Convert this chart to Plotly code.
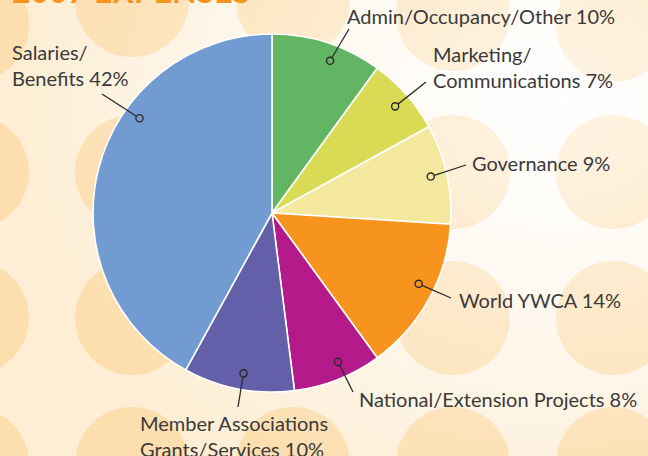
import math
import plotly.graph_objects as go

# ---------------- data ----------------
categories = ["Admin/Occupancy/Other", "Marketing/<br>Communications", "Governance",
              "World YWCA", "National/Extension Projects",
              "Member Associations<br>Grants/Services", "Salaries/<br>Benefits"]
values = [10, 7, 9, 14, 8, 10, 42]
title_text = "2007 EXPENSES"

# ---------------- styles / layout ----------------
colors = ["#62b562", "#d9db55", "#f4e99e", "#f7941e", "#b51a8a", "#635fa9", "#729bd1"]
W, H = 648, 456
CX, CY, R = 272, 213, 179
dot_frac = [0.58, 0.52, 0.49, 0.44, 0.42, 0.48, 0.64]   # where in each slice the marker ring sits
dot_rad = 0.91
leader_end = [(349, 29), (426, 82), (466, 165), (451, 298), (353, 392), (238, 407), (102, 94)]
label_pos = [(345, 16, "left"), (431, 67, "left"), (470, 163, "left"), (457, 300, "left"),
             (357, 399, "left"), (138, 436, "left"), (10, 65, "left")]

# background decoration (circle grid)
bg_cx = [-28, 132, 293, 453, 613]
bg_rows = [172, 318, 464]
bg_top = {-28: 25, 132: 0, 293: 0, 453: 14, 613: 25}

fig = go.Figure()


def glow(alpha0, alpha1):
    gx, gy, gw, gh = 560, 100, 540, 430
    return go.Scatter(
        x=[gx - gw, gx + gw, gx + gw, gx - gw, gx - gw],
        y=[gy - gh, gy - gh, gy + gh, gy + gh, gy - gh],
        mode="lines", fill="toself", line=dict(width=0),
        fillgradient=dict(type="radial",
                          colorscale=[[0, f"rgba(255,255,255,{alpha0})"],
                                      [0.4, f"rgba(255,255,255,{alpha1})"],
                                      [1, "rgba(255,255,255,0)"]]),
        hoverinfo="skip", showlegend=False)


fig.add_trace(glow(0.92, 0.6))

cxs, cys = [], []
for c in bg_cx:
    cxs.append(c); cys.append(bg_top[c])
    for r in bg_rows:
        cxs.append(c); cys.append(r)
fig.add_trace(go.Scatter(
    x=cxs, y=cys, mode="markers",
    marker=dict(size=114, color="rgba(252,198,115,0.40)", line=dict(width=0)),
    hoverinfo="skip", showlegend=False))

fig.add_trace(glow(0.55, 0.3))

# pie
fig.add_trace(go.Pie(
    labels=[c.replace("<br>", " ") for c in categories], values=values,
    marker=dict(colors=colors, line=dict(color="white", width=1.6)),
    sort=False, direction="clockwise", rotation=0,
    textinfo="none", hoverinfo="label+percent", showlegend=False,
    domain=dict(x=[(CX - R) / W, (CX + R) / W], y=[1 - (CY + R) / H, 1 - (CY - R) / H]),
))

# leader lines + rings, positioned from the data
total = sum(values)
cum = 0
shapes = []
annotations = []
ring_r = 3.6
for i, v in enumerate(values):
    theta = math.radians(360 * (cum + dot_frac[i] * v) / total)
    cum += v
    dx = CX + dot_rad * R * math.sin(theta)
    dy = CY - dot_rad * R * math.cos(theta)
    ex, ey = leader_end[i]
    L = math.hypot(ex - dx, ey - dy)
    sx = dx + (ex - dx) / L * ring_r
    sy = dy + (ey - dy) / L * ring_r
    shapes.append(dict(type="line", xref="x", yref="y", x0=sx, y0=sy, x1=ex, y1=ey,
                       line=dict(color="#2b2b2b", width=1.3), layer="above"))
    shapes.append(dict(type="circle", xref="x", yref="y", x0=dx - ring_r, x1=dx + ring_r,
                       y0=dy - ring_r, y1=dy + ring_r,
                       line=dict(color="#2b2b2b", width=1.4), fillcolor="rgba(0,0,0,0)",
                       layer="above"))
    lx, ly, al = label_pos[i]
    annotations.append(dict(x=lx, y=ly, xref="x", yref="y", text=f"{categories[i]} {v}%",
                            showarrow=False, xanchor="left", yanchor="middle", align=al,
                            font=dict(family="Lato", size=20, color="#3a3a3a")))

annotations.append(dict(x=10, y=12, xref="x", yref="y", text=title_text, showarrow=False,
                        xanchor="left", yanchor="bottom",
                        font=dict(family="Lato", size=32, color="#f7941e", weight="bold")))

fig.update_layout(
    width=W, height=H, margin=dict(l=0, r=0, t=0, b=0),
    paper_bgcolor="#fdeed5", plot_bgcolor="rgba(0,0,0,0)",
    xaxis=dict(range=[0, W], visible=False, fixedrange=True, domain=[0, 1]),
    yaxis=dict(range=[H, 0], visible=False, fixedrange=True, domain=[0, 1]),
    shapes=shapes, annotations=annotations, showlegend=False,
)

fig.write_html("out.html", config={"displayModeBar": False},
               post_script="document.body.style.margin='0';document.body.style.overflow='hidden';")
